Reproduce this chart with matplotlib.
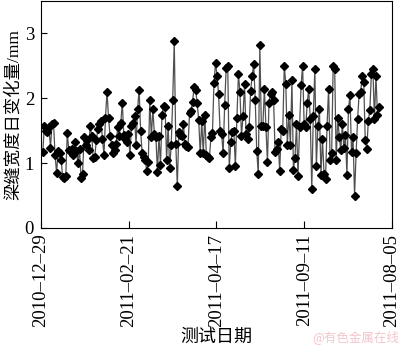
import matplotlib
matplotlib.use("Agg")
import matplotlib.pyplot as plt
import numpy as np

# Daily change of beam joint width (mm), in measurement order
daily_change = [
    1.17, 1.58, 1.50, 1.48, 1.55, 1.24, 1.60, 1.62, 1.12, 0.85, 1.18, 1.15, 1.05, 0.78, 0.77, 0.80, 1.46, 1.20, 1.18,
    1.22, 1.12, 1.32, 1.18, 1.00, 1.22, 0.77, 0.83, 1.40, 1.28, 1.35, 1.20, 1.58, 1.42,
    1.08, 1.10, 1.35, 1.52, 1.60, 1.65, 1.38, 1.12, 1.70, 2.10, 1.70, 1.42, 1.28, 1.15, 1.20,
    1.30, 1.55, 1.42, 1.62, 1.93, 1.43, 1.38, 1.33, 1.45, 1.12, 1.58, 1.62, 1.72, 1.28, 1.83, 2.13, 1.50, 1.15,
    1.10, 1.05, 0.88, 1.02, 1.98, 1.40, 1.83, 1.45, 1.40, 0.87, 1.42, 0.97, 1.75, 1.88, 1.87, 1.05, 1.58,
    0.92, 1.28, 1.98, 2.88, 1.30, 0.65, 1.48, 1.43, 1.42, 1.60, 1.30, 1.27, 1.25, 1.77, 1.80, 1.95,
    2.17, 2.13, 1.92, 1.67, 1.15, 1.65, 1.15, 1.75, 1.13, 1.10, 1.08, 1.40, 1.47, 2.23, 2.55, 2.35, 2.07,
    1.50, 1.45, 1.15, 1.90, 2.47, 2.50, 0.92, 1.33, 1.48, 1.50, 0.95, 1.70, 2.37, 2.10, 1.42, 1.72, 2.22, 1.45, 1.38,
    1.55, 2.12, 2.35, 2.53, 1.97, 1.18, 0.83, 2.82, 1.58, 1.58, 2.15, 1.55, 1.02, 1.93, 2.07, 2.10, 1.98,
    1.17, 1.22, 1.33, 0.88, 1.52, 1.50, 2.50, 2.22, 1.28, 1.75, 1.28, 2.28, 0.90, 1.08, 1.60, 0.80, 1.55,
    2.20, 2.50, 1.60, 1.55, 1.92, 2.15, 1.68, 0.60, 1.73, 2.45, 0.95, 1.57, 1.83,
    0.82, 1.37, 0.84, 0.75, 1.58, 2.15, 1.05, 1.15, 2.50, 2.45, 1.05, 1.70,
    1.40, 1.20, 1.60, 1.23, 1.43, 0.82, 1.83, 2.05, 1.17, 1.40, 0.50, 1.15, 1.68, 2.07, 2.10,
    2.35, 2.25, 1.35, 1.22, 1.65, 1.82, 2.37, 2.45, 1.68, 2.35, 1.75, 1.87,
]

date_labels = ["2010–12–29", "2011–02–21", "2011–04–17", "2011–09–11", "2011–08–05"]
y_ticks = [0, 1, 2, 3]

serif_cjk = ["Liberation Serif", "Noto Sans CJK SC"]

fig = plt.figure(figsize=(4.0, 3.47), dpi=100)
ax = fig.add_axes([0.1025, 0.343, 0.8775, 0.654])

x = np.arange(len(daily_change))
ax.plot(x, daily_change, color="#505050", lw=0.9,
        marker="D", markersize=4.4, markerfacecolor="black", markeredgecolor="black")

x_lo, x_hi = -1.2, 228.5
ax.set_xlim(x_lo, x_hi)
ax.set_ylim(0, 3.5)
ax.set_xticks(np.linspace(x_lo, x_hi, len(date_labels)))
ax.set_xticklabels(date_labels, rotation=90, family=serif_cjk, fontsize=13.5)
ax.set_yticks(y_ticks)
ax.set_yticklabels([str(v) for v in y_ticks], family=serif_cjk, fontsize=13.5)
ax.tick_params(axis="x", direction="in", length=5, width=0.8, top=False, pad=4)
ax.tick_params(axis="y", direction="in", length=4, width=0.8, right=False, pad=5)

for s in ax.spines.values():
    s.set_linewidth(0.8)
    s.set_color("black")

ax.set_ylabel("梁缝宽度日变化量/mm", family=serif_cjk, fontsize=12.5, labelpad=2)
ax.set_xlabel("测试日期", family=serif_cjk, fontsize=13, labelpad=1)

fig.text(0.998, 0.008, "@有色金属在线", ha="right", va="bottom",
         family=["Noto Sans CJK SC", "DejaVu Sans"], fontsize=9, color="#f2c6cc")

fig.savefig("out.png", dpi=100)
